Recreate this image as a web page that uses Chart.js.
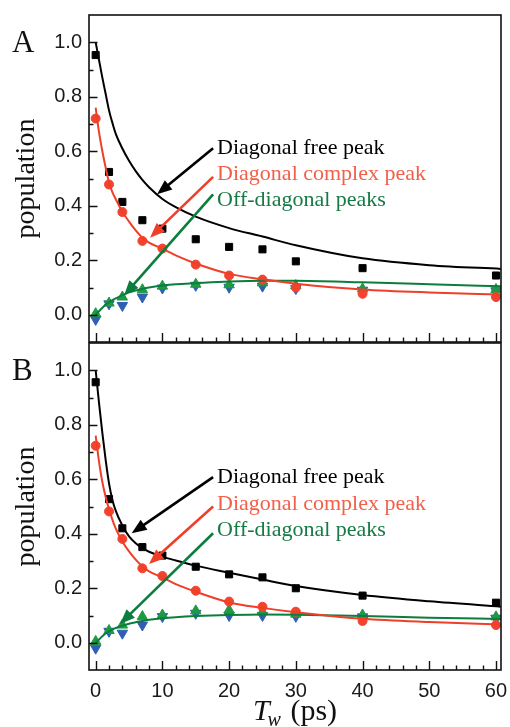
<!DOCTYPE html>
<html><head><meta charset="utf-8">
<script src="https://cdn.jsdelivr.net/npm/chart.js@4.4.0/dist/chart.umd.min.js"></script>
<style>
html,body{margin:0;padding:0;background:#fff;}
body{width:510px;height:727px;position:relative;overflow:hidden;}
#wa{position:absolute;left:0;top:0;width:510px;height:352px;}
#wb{position:absolute;left:0;top:333px;width:510px;height:394px;}
</style></head><body>
<div id="wa"><canvas id="ca"></canvas></div>
<div id="wb"><canvas id="cb"></canvas></div>
<script>
// ---- data ----
const tw = [0, 2, 4, 7, 10, 15, 20, 25, 30, 40, 60];
const xTickVals = [0, 10, 20, 30, 40, 50, 60];
const yTickVals = [0.0, 0.2, 0.4, 0.6, 0.8, 1.0];

// Panel A measured points
const freeA    = [0.953, 0.524, 0.414, 0.347, 0.316, 0.277, 0.249, 0.240, 0.196, 0.171, 0.144];
const complexA = [0.720, 0.478, 0.377, 0.271, 0.243, 0.184, 0.144, 0.129, 0.100, 0.077, 0.065];
const offUpA   = [0.004, 0.043, 0.065, 0.092, 0.105, 0.112, 0.110, 0.117, 0.107, 0.095, 0.093];
const offDownA = [-0.017, 0.040, 0.034, 0.065, 0.098, 0.108, 0.101, 0.105, 0.096, 0.090, 0.088];
// Panel B measured points
const freeB    = [0.956, 0.527, 0.420, 0.351, 0.320, 0.279, 0.251, 0.240, 0.200, 0.173, 0.147];
const complexB = [0.723, 0.482, 0.381, 0.273, 0.245, 0.191, 0.151, 0.132, 0.114, 0.080, 0.065];
const offUpB   = [0.005, 0.045, 0.065, 0.096, 0.102, 0.117, 0.120, 0.114, 0.105, 0.102, 0.095];
const offDownB = [-0.020, 0.042, 0.035, 0.065, 0.096, 0.108, 0.100, 0.100, 0.097, 0.095, 0.090];

// Fit curves
const fitX       = [0, 0.5, 1, 1.5, 2, 2.5, 3, 4, 5, 6, 7, 8, 10, 12, 15, 20, 25, 30, 40, 50, 61];
const fitFreeA    = [1.0, 0.935, 0.87, 0.81, 0.75, 0.705, 0.665, 0.61, 0.565, 0.527, 0.495, 0.468, 0.425, 0.395, 0.36, 0.318, 0.287, 0.255, 0.207, 0.182, 0.168];
const fitComplexA = [0.76, 0.67, 0.60, 0.54, 0.485, 0.45, 0.425, 0.378, 0.342, 0.31, 0.283, 0.265, 0.242, 0.218, 0.188, 0.150, 0.130, 0.114, 0.093, 0.082, 0.074];
const fitOffA     = [0.0, 0.013, 0.026, 0.037, 0.046, 0.054, 0.060, 0.072, 0.082, 0.089, 0.095, 0.100, 0.107, 0.112, 0.116, 0.122, 0.125, 0.125, 0.119, 0.112, 0.104];
const fitFreeB    = [1.0, 0.88, 0.77, 0.67, 0.585, 0.525, 0.485, 0.43, 0.39, 0.365, 0.347, 0.334, 0.316, 0.302, 0.283, 0.257, 0.232, 0.208, 0.175, 0.152, 0.132];
const fitComplexB = [0.76, 0.665, 0.59, 0.535, 0.49, 0.452, 0.42, 0.372, 0.335, 0.305, 0.28, 0.262, 0.24, 0.215, 0.187, 0.148, 0.128, 0.112, 0.088, 0.076, 0.067];
const fitOffB     = [0.0, 0.012, 0.024, 0.034, 0.042, 0.049, 0.054, 0.063, 0.070, 0.075, 0.080, 0.084, 0.090, 0.094, 0.098, 0.102, 0.104, 0.103, 0.098, 0.092, 0.087];

// annotations (data units)
const annoText = ['Diagonal free peak', 'Diagonal complex peak', 'Off-diagonal peaks'];
const annoTextX = 18.2;
const annoTextYA = [0.589, 0.494, 0.400];
const annoTextYB = [0.586, 0.488, 0.390];
const arrowTailA = [[17.6, 0.611], [17.6, 0.506], [17.6, 0.442]];
const arrowTipA  = [[9.2, 0.442], [8.15, 0.283], [4.25, 0.071]];
const arrowTailB = [[17.6, 0.608], [17.6, 0.500], [17.6, 0.402]];
const arrowTipB  = [[5.4, 0.402], [8.0, 0.289], [3.65, 0.069]];

// ---- styles ----
const C = {
  black: '#000000', redM: '#f2432f', redL: '#ef3f28', redT: '#f2604a',
  greenM: '#1f9a44', greenL: '#0b7d3c', greenT: '#157a44', blueM: '#2f5fb3'
};
const annoColors = [C.black, C.redT, C.greenT];
const arrowColors = [C.black, C.redL, C.greenL];
const SERIF = '"Liberation Serif","Times New Roman",serif';
const SANS = '"Liberation Sans",Arial,sans-serif';

const pts = (xs, ys) => xs.map((x, i) => ({x: x, y: ys[i]}));

function datasets(free, complex, up, down, fFree, fComplex, fOff) {
  const line = (d, col) => ({data: pts(fitX, d), borderColor: col, borderWidth: 2, pointRadius: 0,
    showLine: true, fill: false, cubicInterpolationMode: 'monotone'});
  const mark = (d, col, style, r, rot) => ({data: pts(tw, d), showLine: false, pointStyle: style,
    pointRadius: r, pointRotation: rot || 0, backgroundColor: col, borderColor: col, borderWidth: 1});
  return [
    line(fFree, C.black), line(fComplex, C.redL), line(fOff, C.greenL),
    mark(free, C.black, 'rect', 5),
    mark(complex, C.redM, 'circle', 4.5),
    mark(up, C.greenM, 'triangle', 6),
    mark(down, C.blueM, 'triangle', 6, 180)
  ];
}

function framePlugin(tips, tails, textY, letter, drawXTitle) {
  return {
    id: 'frame' + letter,
    afterDatasetsDraw(chart) {
      const {ctx, chartArea: {left, right, top, bottom}, scales: {x, y}} = chart;
      ctx.save();
      ctx.strokeStyle = '#111';
      ctx.lineWidth = 1.6;
      ctx.strokeRect(left, top, right - left, bottom - top);
      ctx.lineWidth = 1.4;
      ctx.beginPath();
      for (let v = 0; v <= 60; v += 2) {
        const px = Math.round(x.getPixelForValue(v)) + 0.5;
        const len = xTickVals.includes(v) ? 9 : 4.5;
        ctx.moveTo(px, bottom); ctx.lineTo(px, bottom - len);
      }
      for (let k = 0; k <= 10; k++) {
        const v = k / 10;
        const py = Math.round(y.getPixelForValue(v)) + 0.5;
        const len = (k % 2 === 0) ? 8.5 : 4.5;
        ctx.moveTo(left, py); ctx.lineTo(left + len, py);
      }
      ctx.stroke();
      // annotations
      ctx.font = '22px ' + SERIF;
      ctx.textBaseline = 'alphabetic';
      ctx.textAlign = 'left';
      for (let i = 0; i < 3; i++) {
        ctx.fillStyle = annoColors[i];
        ctx.fillText(annoText[i], x.getPixelForValue(annoTextX), y.getPixelForValue(textY[i]));
        const x0 = x.getPixelForValue(tails[i][0]), y0 = y.getPixelForValue(tails[i][1]);
        const x1 = x.getPixelForValue(tips[i][0]), y1 = y.getPixelForValue(tips[i][1]);
        const ang = Math.atan2(y1 - y0, x1 - x0);
        const hl = 15, hw = 6;
        ctx.strokeStyle = arrowColors[i];
        ctx.fillStyle = arrowColors[i];
        ctx.lineWidth = 2.6;
        ctx.beginPath();
        ctx.moveTo(x0, y0);
        ctx.lineTo(x1 - Math.cos(ang) * (hl - 2), y1 - Math.sin(ang) * (hl - 2));
        ctx.stroke();
        ctx.beginPath();
        ctx.moveTo(x1, y1);
        ctx.lineTo(x1 - Math.cos(ang) * hl - Math.sin(ang) * hw, y1 - Math.sin(ang) * hl + Math.cos(ang) * hw);
        ctx.lineTo(x1 - Math.cos(ang) * hl + Math.sin(ang) * hw, y1 - Math.sin(ang) * hl - Math.cos(ang) * hw);
        ctx.closePath();
        ctx.fill();
      }
      // panel letter
      ctx.fillStyle = '#111';
      ctx.font = '31px ' + SERIF;
      ctx.fillText(letter, 12, y.getPixelForValue(1.0) + 10);
      if (drawXTitle) {
        const cx = (left + right) / 2;
        const base = chart.height - 7;
        ctx.font = 'italic 30px ' + SERIF;
        const wT = ctx.measureText('T').width;
        ctx.font = 'italic 20px ' + SERIF;
        const wW = ctx.measureText('w').width;
        ctx.font = '30px ' + SERIF;
        const wP = ctx.measureText(' (ps)').width;
        let sx = cx - (wT + wW + wP) / 2;
        ctx.font = 'italic 30px ' + SERIF;
        ctx.fillText('T', sx, base); sx += wT - 2;
        ctx.font = 'italic 20px ' + SERIF;
        ctx.fillText('w', sx, base + 6); sx += wW + 2;
        ctx.font = '30px ' + SERIF;
        ctx.fillText(' (ps)', sx, base);
      }
      ctx.restore();
    }
  };
}

function makeChart(id, ds, plugin, showX, padding, xHeight) {
  return new Chart(document.getElementById(id), {
    type: 'scatter',
    data: {datasets: ds},
    options: {
      responsive: true, maintainAspectRatio: false, animation: false, devicePixelRatio: 1,
      layout: {padding: padding},
      plugins: {legend: {display: false}, tooltip: {enabled: false}},
      scales: {
        x: {
          type: 'linear', min: -1, max: 60.75, display: showX,
          afterBuildTicks: s => { s.ticks = xTickVals.map(v => ({value: v})); },
          afterFit: s => { if (showX) s.height = xHeight; s.paddingLeft = 0; s.paddingRight = 0; },
          grid: {display: false, drawTicks: false}, border: {display: false},
          ticks: {padding: 9, color: '#1a1a1a', font: {family: SANS, size: 20}, callback: v => String(v), maxRotation: 0}
        },
        y: {
          type: 'linear', min: -0.1, max: 1.1,
          afterBuildTicks: s => { s.ticks = yTickVals.map(v => ({value: v})); },
          afterFit: s => { s.width = 89; s.paddingTop = 0; s.paddingBottom = 0; },
          grid: {display: false, drawTicks: false}, border: {display: false},
          ticks: {padding: 7, color: '#1a1a1a', font: {family: SANS, size: 20}, callback: v => v.toFixed(1)},
          title: {display: true, text: 'population', color: '#111', font: {family: SERIF, size: 28}, padding: {top: 10, bottom: 0}}
        }
      }
    },
    plugins: [plugin]
  });
}

makeChart('ca', datasets(freeA, complexA, offUpA, offDownA, fitFreeA, fitComplexA, fitOffA),
  framePlugin(arrowTipA, arrowTailA, annoTextYA, 'A', false), false, {left: 0, right: 9, top: 15, bottom: 10}, 0);
makeChart('cb', datasets(freeB, complexB, offUpB, offDownB, fitFreeB, fitComplexB, fitOffB),
  framePlugin(arrowTipB, arrowTailB, annoTextYB, 'B', true), true, {left: 0, right: 9, top: 10, bottom: 0}, 57);
</script></body></html>
